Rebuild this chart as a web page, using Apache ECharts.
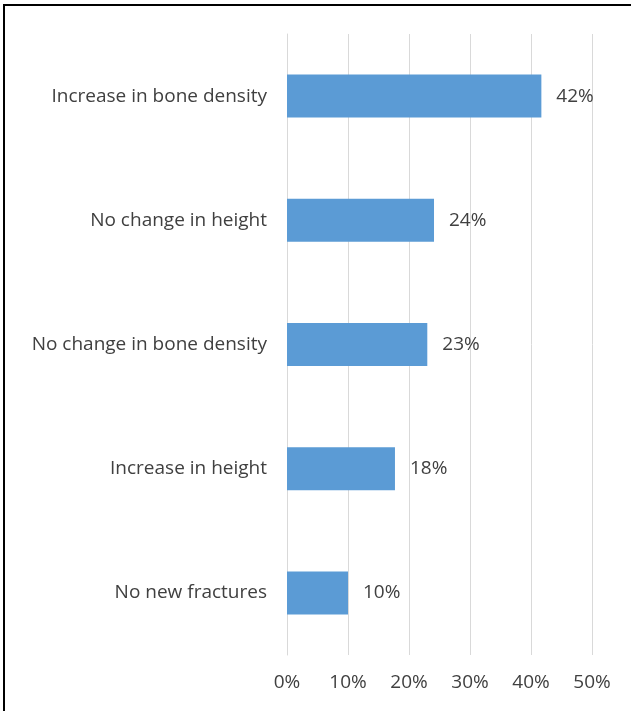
<!DOCTYPE html>
<html><head><meta charset="utf-8">
<script src="https://cdn.jsdelivr.net/npm/echarts@6/dist/echarts.min.js"></script>
<style>html,body{margin:0;padding:0;background:#fff;}#c{width:631px;height:711px;}
#frame{position:absolute;left:3px;top:4px;width:640px;height:720px;border-left:2px solid #000;border-top:2px solid #000;pointer-events:none;}</style>
</head><body><div id="c"></div><div id="frame"></div>
<script>
const categories = ["Increase in bone density","No change in height","No change in bone density","Increase in height","No new fractures"];
const values = [41.7, 24.1, 23.0, 17.7, 10.0];
const tickLabels = ["0%","10%","20%","30%","40%","50%"];
const font = "'Open Sans', sans-serif";
const chart = echarts.init(document.getElementById('c'));
chart.setOption({
  animation:false,
  grid:{left:287,right:39,top:34,bottom:56,containLabel:false},
  xAxis:{type:'value',min:0,max:50,interval:10,
    axisLine:{show:false},axisTick:{show:false},
    splitLine:{lineStyle:{color:'#D9D9D9',width:1}},
    axisLabel:{formatter:(v)=>tickLabels[v/10],color:'#404040',fontSize:19,fontFamily:font,margin:18}},
  yAxis:{type:'category',inverse:true,data:categories,
    axisLine:{show:true,lineStyle:{color:'#D9D9D9'}},axisTick:{show:false},
    axisLabel:{color:'#404040',fontSize:19,fontFamily:font,margin:20}},
  series:[{type:'bar',data:values,barWidth:43,itemStyle:{color:'#5B9BD5'},
    label:{show:true,position:'right',distance:15,formatter:(p)=>Math.round(p.value)+'%',color:'#404040',fontSize:19,fontFamily:font}}]
});
</script></body></html>
